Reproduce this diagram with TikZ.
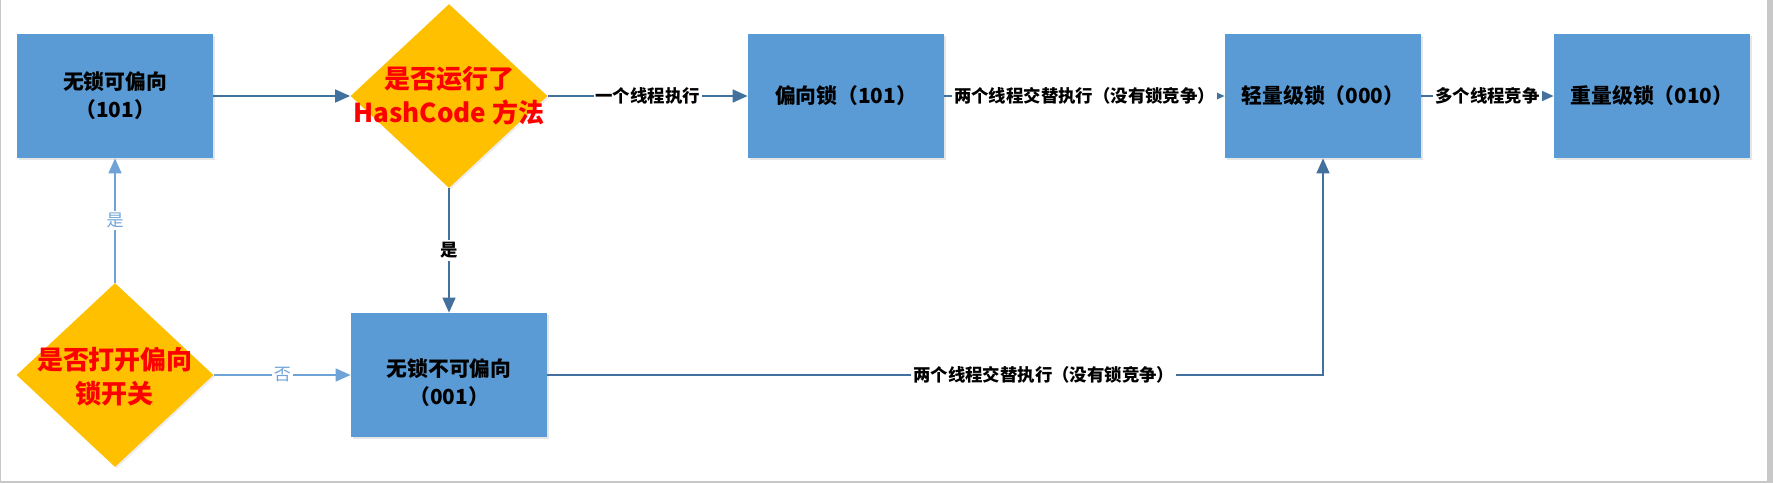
\documentclass[tikz,border=0pt]{standalone}
\usepackage{fontspec}
\setmainfont{Noto Sans CJK SC}
\usetikzlibrary{arrows.meta,shapes.geometric,shadows}
\definecolor{boxblue}{HTML}{5B9BD5}
\definecolor{askgold}{HTML}{FFC000}
\definecolor{linkdark}{HTML}{41719C}
\definecolor{linklight}{HTML}{6FA3D8}
\definecolor{framegray}{HTML}{C8C8C8}

\begin{document}
\begin{tikzpicture}[x=0.5pt,y=-0.5pt,>={Triangle[length=7.5pt,width=6.5pt]},
  state/.style={rectangle,fill=boxblue,minimum width=98pt,minimum height=62pt,
    inner sep=0pt,align=center,font=\fontsize{10.4}{14}\selectfont\bfseries,
    drop shadow={opacity=0.2,shadow xshift=0.8pt,shadow yshift=-0.8pt}},
  ask/.style={diamond,fill=askgold,minimum width=98.5pt,minimum height=92pt,
    inner sep=0pt,drop shadow={opacity=0.15,shadow xshift=0.8pt,shadow yshift=-0.8pt}},
  asktext/.style={text=red,align=center,font=\fontsize{13}{17}\selectfont\bfseries},
  link/.style={->,draw=linkdark,line width=0.8pt},
  linklt/.style={->,draw=linklight,line width=0.8pt},
  tag/.style={fill=white,inner sep=1pt,font=\fontsize{8.7}{10}\selectfont\bfseries},
  taglt/.style={fill=white,inner sep=1pt,text=linklight,font=\fontsize{8.5}{10}\selectfont}]
 \useasboundingbox (0,0) rectangle (1773,483);
 % frame of the screenshot
 \fill[framegray] (1767,0) rectangle (1773,483);
 \draw[framegray,line width=0.6pt] (0.5,0) -- (0.5,482) -- (1767,482);
 % states and questions
 \node[state] (freeb) at (115,96) {无锁可偏向\\（101）};
 \node[ask,label={[asktext]center:{是否运行了\\HashCode 方法}}] (hashq) at (449,96) {};
 \node[state] (biased) at (846,96) {偏向锁（101）};
 \node[state] (light) at (1323,96) {轻量级锁（000）};
 \node[state] (heavy) at (1652,96) {重量级锁（010）};
 \node[ask,label={[asktext,yshift=-1pt]center:{是否打开偏向\\锁开关}}] (biasq) at (115,375) {};
 \node[state,label={[align=center,font=\fontsize{10.4}{14}\selectfont\bfseries,yshift=-4pt]center:{无锁不可偏向\\（001）}}]
   (nofree) at (449,375) {};
 % connectors
 \draw[link] (freeb) -- (hashq);
 \draw[link] (hashq) -- node[tag] {一个线程执行} (biased);
 \draw[link] (biased) -- node[tag] {两个线程交替执行（没有锁竞争）} (light);
 \draw[link] (light) -- node[tag] {多个线程竞争} (heavy);
 \draw[link] (hashq) -- node[tag] {是} (nofree);
 \draw[linklt] (biasq) -- node[taglt] {是} (freeb);
 \draw[linklt] (biasq) -- node[taglt] {否} (nofree);
 \draw[link] (nofree) -| node[tag,pos=0.32] {两个线程交替执行（没有锁竞争）} (light);
\end{tikzpicture}
\end{document}
